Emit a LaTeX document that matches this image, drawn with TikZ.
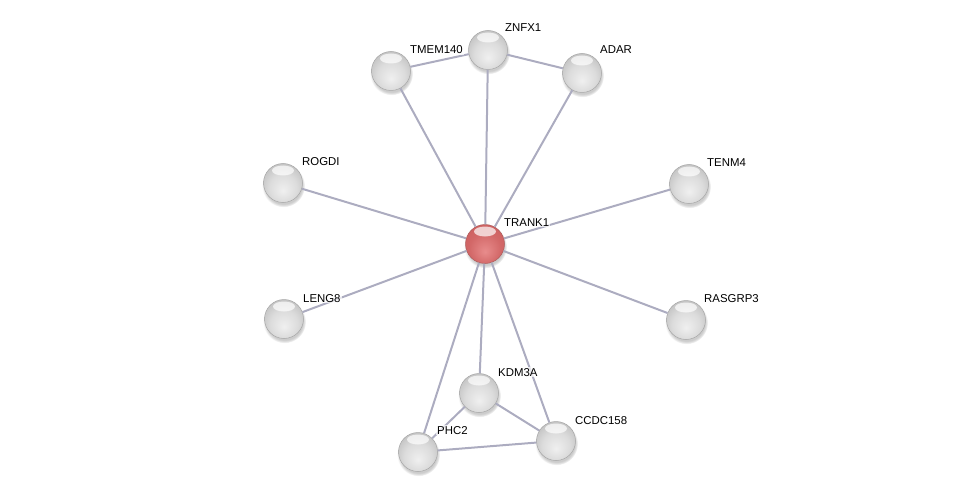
\documentclass[tikz,border=0pt]{standalone}
\usepackage{fontspec}
\setmainfont{Liberation Sans}
\usetikzlibrary{positioning, shadows}
\definecolor{edgegray}{RGB}{172,172,192}
\definecolor{redlight}{RGB}{232,140,140}
\definecolor{redmid}{RGB}{205,95,95}
\definecolor{reddark}{RGB}{150,52,52}
\pgfdeclareradialshading{glassgray}{\pgfpoint{0bp}{-10bp}}{%
  color(0bp)=(black!6); color(18bp)=(black!14); color(30bp)=(black!24);
  color(40bp)=(black!40); color(50bp)=(black!58)}
\pgfdeclareradialshading{glassred}{\pgfpoint{0bp}{-10bp}}{%
  color(0bp)=(redlight); color(20bp)=(redmid!80!redlight); color(32bp)=(redmid);
  color(42bp)=(redmid!60!reddark); color(50bp)=(reddark)}

\begin{document}
\begin{tikzpicture}[
    x=1pt, y=-1pt,
    protein/.style = {circle, minimum size=39pt, inner sep=0pt, shading=glassgray,
                      draw=black!35, line width=0.5pt,
                      circular drop shadow={shadow xshift=0.5pt, shadow yshift=-2.5pt, opacity=0.4},
                      path picture={\fill[white, opacity=0.7]
                        ([yshift=-7pt]path picture bounding box.north) ellipse (11pt and 5pt);}},
    query/.style = {protein, shading=glassred, draw=reddark!80},
    genelabel/.style = {anchor=base west, inner sep=1pt, fill=white, fill opacity=0.7,
                        text opacity=1, font=\fontsize{11.4}{13}\selectfont},
    edge/.style = {draw=edgegray, line width=2pt}
]
    \useasboundingbox (0,0) rectangle (976,497);

    % proteins
    \node [query] (trank1) at (485,244) {};
    \node [protein] (znfx1) at (488,50) {};
    \node [protein] (tmem140) at (391,71) {};
    \node [protein] (adar) at (582,73) {};
    \node [protein] (rogdi) at (283,183) {};
    \node [protein] (tenm4) at (689,184) {};
    \node [protein] (leng8) at (284,319) {};
    \node [protein] (rasgrp3) at (686,320) {};
    \node [protein] (kdm3a) at (479,393) {};
    \node [protein] (ccdc158) at (556,441) {};
    \node [protein] (phc2) at (418,452) {};

    % interactions
    \draw [edge] (trank1) -- (znfx1);
    \draw [edge] (trank1) -- (tmem140);
    \draw [edge] (trank1) -- (adar);
    \draw [edge] (trank1) -- (rogdi);
    \draw [edge] (trank1) -- (tenm4);
    \draw [edge] (trank1) -- (leng8);
    \draw [edge] (trank1) -- (rasgrp3);
    \draw [edge] (trank1) -- (kdm3a);
    \draw [edge] (trank1) -- (ccdc158);
    \draw [edge] (trank1) -- (phc2);
    \draw [edge] (tmem140) -- (znfx1);
    \draw [edge] (znfx1) -- (adar);
    \draw [edge] (kdm3a) -- (phc2);
    \draw [edge] (kdm3a) -- (ccdc158);
    \draw [edge] (phc2) -- (ccdc158);

    % labels
    \node [genelabel] (ltrank1) at (503,226) {TRANK1};
    \node [genelabel] (lznfx1) at (504,32) {ZNFX1};
    \node [genelabel] (ltmem140) at (409,54) {TMEM140};
    \node [genelabel] (ladar) at (599,54) {ADAR};
    \node [genelabel] (lrogdi) at (301,165) {ROGDI};
    \node [genelabel] (ltenm4) at (706,167) {TENM4};
    \node [genelabel] (lleng8) at (302,302) {LENG8};
    \node [genelabel] (lrasgrp3) at (703,302) {RASGRP3};
    \node [genelabel] (lkdm3a) at (497,376) {KDM3A};
    \node [genelabel] (lccdc158) at (574,424) {CCDC158};
    \node [genelabel] (lphc2) at (436,434) {PHC2};
\end{tikzpicture}
\end{document}
